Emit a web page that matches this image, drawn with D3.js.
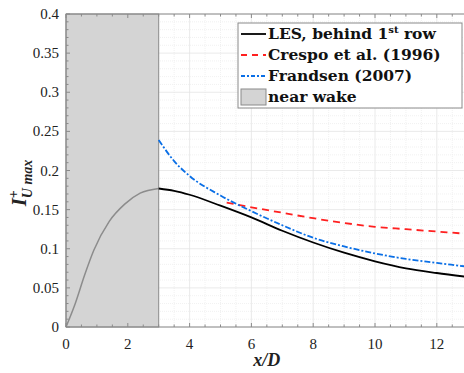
<!DOCTYPE html>
<html lang="en">
<head>
    <meta charset="UTF-8">
    <title>Turbulence intensity behind first row</title>
    <script src="https://d3js.org/d3.v7.min.js" charset="utf-8"></script>
    <style>
        body { margin: 0; background: #fff; }
        svg { display: block; }
    </style>
</head>
<body>
    <div id="chart"></div>
    <script>
        // data (x/D, I+)
        var lesX = [3, 3.5, 4, 5, 6, 7, 8, 9, 10, 11, 12, 13];
        var lesY = [0.177, 0.174, 0.169, 0.155, 0.140, 0.123, 0.108, 0.095, 0.084, 0.075, 0.069, 0.064];
        var crespoX = [5.2, 6, 7, 8, 9, 10, 11, 12, 13];
        var crespoY = [0.159, 0.153, 0.146, 0.139, 0.133, 0.128, 0.125, 0.122, 0.119];
        var frandsenX = [3, 3.5, 4, 5, 6, 7, 8, 9, 10, 11, 12, 13];
        var frandsenY = [0.239, 0.212, 0.193, 0.168, 0.148, 0.130, 0.114, 0.103, 0.094, 0.087, 0.082, 0.077];
        var nearX = [0, 0.3, 0.6, 0.9, 1.4, 1.9, 2.4, 3];
        var nearY = [0, 0.03, 0.066, 0.098, 0.135, 0.157, 0.171, 0.177];
        var xTicks = [0, 2, 4, 6, 8, 10, 12];
        var yTicks = [0, 0.05, 0.1, 0.15, 0.2, 0.25, 0.3, 0.35, 0.4];
        var nearWakeEnd = 3;

        var width = 464, height = 373;
        var plotLeft = 66, plotTop = 14, plotBottom = 327;

        var svg = d3.select('#chart').append('svg')
            .attr('width', width)
            .attr('height', height);

        var x = d3.scaleLinear().domain([0, 13]).range([plotLeft, plotLeft + 13 * 30.9]);
        var y = d3.scaleLinear().domain([0, 0.4]).range([plotBottom, plotTop]);

        // grid
        var grid = svg.append('g');
        d3.range(0, 13.01, 0.5).forEach(function(v) {
            grid.append('line')
                .attr('x1', x(v)).attr('x2', x(v))
                .attr('y1', y(0)).attr('y2', y(0.4))
                .attr('stroke', v % 2 === 0 ? '#e4e4e4' : '#ededed')
                .attr('stroke-dasharray', v % 2 === 0 ? null : '1,1')
                .attr('stroke-width', 0.8);
        });
        d3.range(0, 0.4001, 0.01).forEach(function(v) {
            var major = Math.abs(Math.round(v * 100) % 5) === 0;
            grid.append('line')
                .attr('x1', x(0)).attr('x2', x(13))
                .attr('y1', y(v)).attr('y2', y(v))
                .attr('stroke', major ? '#e4e4e4' : '#ededed')
                .attr('stroke-dasharray', major ? null : '1,1')
                .attr('stroke-width', 0.8);
        });

        // near wake patch
        svg.append('rect')
            .attr('x', x(0))
            .attr('y', y(0.4))
            .attr('width', x(nearWakeEnd) - x(0))
            .attr('height', y(0) - y(0.4))
            .attr('fill', '#d4d4d4')
            .attr('stroke', '#8a8a8a')
            .attr('stroke-width', 1);

        var line = d3.line()
            .x(function(d) { return x(d[0]); })
            .y(function(d) { return y(d[1]); })
            .curve(d3.curveMonotoneX);

        function pairs(xs, ys) { return xs.map(function(v, i) { return [v, ys[i]]; }); }

        svg.append('path').datum(pairs(nearX, nearY))
            .attr('d', line).attr('fill', 'none')
            .attr('stroke', '#8c8c8c').attr('stroke-width', 1.5);

        svg.append('path').datum(pairs(crespoX, crespoY))
            .attr('d', line).attr('fill', 'none')
            .attr('stroke', '#ff2020').attr('stroke-width', 1.8)
            .attr('stroke-dasharray', '7,5');

        svg.append('path').datum(pairs(frandsenX, frandsenY))
            .attr('d', line).attr('fill', 'none')
            .attr('stroke', '#0a6fe6').attr('stroke-width', 1.8)
            .attr('stroke-dasharray', '6,2,2,2');

        svg.append('path').datum(pairs(lesX, lesY))
            .attr('d', line).attr('fill', 'none')
            .attr('stroke', '#000').attr('stroke-width', 1.8);

        // axes frame and ticks
        var axisColor = '#8a8a8a';
        var frame = svg.append('g').attr('stroke', axisColor).attr('stroke-width', 1);
        frame.append('line').attr('x1', x(0)).attr('x2', width).attr('y1', y(0)).attr('y2', y(0));
        frame.append('line').attr('x1', x(0)).attr('x2', width).attr('y1', y(0.4)).attr('y2', y(0.4));
        frame.append('line').attr('x1', x(0)).attr('x2', x(0)).attr('y1', y(0)).attr('y2', y(0.4));

        d3.range(0, 13.01, 0.5).forEach(function(v) {
            var len = v % 2 === 0 ? 4 : 2.5;
            frame.append('line').attr('x1', x(v)).attr('x2', x(v)).attr('y1', y(0)).attr('y2', y(0) - len);
            frame.append('line').attr('x1', x(v)).attr('x2', x(v)).attr('y1', y(0.4)).attr('y2', y(0.4) + len);
        });
        d3.range(0, 0.4001, 0.01).forEach(function(v) {
            var major = Math.abs(Math.round(v * 100) % 5) === 0;
            var len = major ? 4 : 2.5;
            frame.append('line').attr('x1', x(0)).attr('x2', x(0) + len).attr('y1', y(v)).attr('y2', y(v));
        });

        var fontSerif = '"Liberation Serif", "DejaVu Serif", serif';

        svg.append('g').selectAll('text').data(xTicks).enter().append('text')
            .attr('x', function(d) { return x(d); })
            .attr('y', 349)
            .attr('text-anchor', 'middle')
            .style('font-family', fontSerif)
            .style('font-size', '15px')
            .attr('fill', '#222')
            .text(function(d) { return d; });

        svg.append('g').selectAll('text').data(yTicks).enter().append('text')
            .attr('x', 59)
            .attr('y', function(d) { return y(d) + 5; })
            .attr('text-anchor', 'end')
            .style('font-family', fontSerif)
            .style('font-size', '15px')
            .attr('fill', '#222')
            .text(function(d) { return d; });

        // x label
        svg.append('text')
            .attr('x', x(6.5))
            .attr('y', 366)
            .attr('text-anchor', 'middle')
            .style('font-family', fontSerif)
            .style('font-size', '18px')
            .style('font-style', 'italic')
            .style('font-weight', 'bold')
            .attr('fill', '#222')
            .text('x/D');

        // y label
        var yl = svg.append('text')
            .attr('transform', 'translate(26,' + 183 + ') rotate(-90)')
            .attr('text-anchor', 'middle')
            .style('font-family', fontSerif)
            .style('font-style', 'italic')
            .style('font-weight', 'bold')
            .attr('fill', '#222');
        yl.append('tspan').style('font-size', '21px').text('I');
        yl.append('tspan').style('font-size', '14px').attr('dy', -8).text('+');
        yl.append('tspan').style('font-size', '14px').attr('dx', -8).attr('dy', 14).text('U max');

        // legend
        var legend = svg.append('g');
        legend.append('rect')
            .attr('x', 238).attr('y', 23)
            .attr('width', 224).attr('height', 85)
            .attr('fill', '#fff')
            .attr('stroke', '#8a8a8a');

        var legendItems = [
            { label: 'LES, behind 1', sup: 'st', after: ' row', color: '#000', dash: null },
            { label: 'Crespo et al. (1996)', color: '#ff2020', dash: '6,5' },
            { label: 'Frandsen (2007)', color: '#0a6fe6', dash: '4,2,2,2' },
            { label: 'near wake', patch: true }
        ];
        legendItems.forEach(function(d, i) {
            var cy = 34 + i * 21;
            if (d.patch) {
                legend.append('rect')
                    .attr('x', 241).attr('y', cy - 8)
                    .attr('width', 25).attr('height', 16)
                    .attr('fill', '#d4d4d4').attr('stroke', '#8a8a8a');
            } else {
                legend.append('line')
                    .attr('x1', 241).attr('x2', 266)
                    .attr('y1', cy).attr('y2', cy)
                    .attr('stroke', d.color).attr('stroke-width', 1.8)
                    .attr('stroke-dasharray', d.dash);
            }
            var t = legend.append('text')
                .attr('x', 268).attr('y', cy + 5)
                .style('font-family', '"DejaVu Serif", serif')
                .style('font-weight', 'bold')
                .style('font-size', '15.5px')
                .attr('fill', '#111');
            t.append('tspan').text(d.label);
            if (d.sup) {
                t.append('tspan').style('font-size', '10px').attr('dy', -6).text(d.sup);
                t.append('tspan').attr('dy', 6).text(d.after);
            }
        });
    </script>
</body>
</html>
